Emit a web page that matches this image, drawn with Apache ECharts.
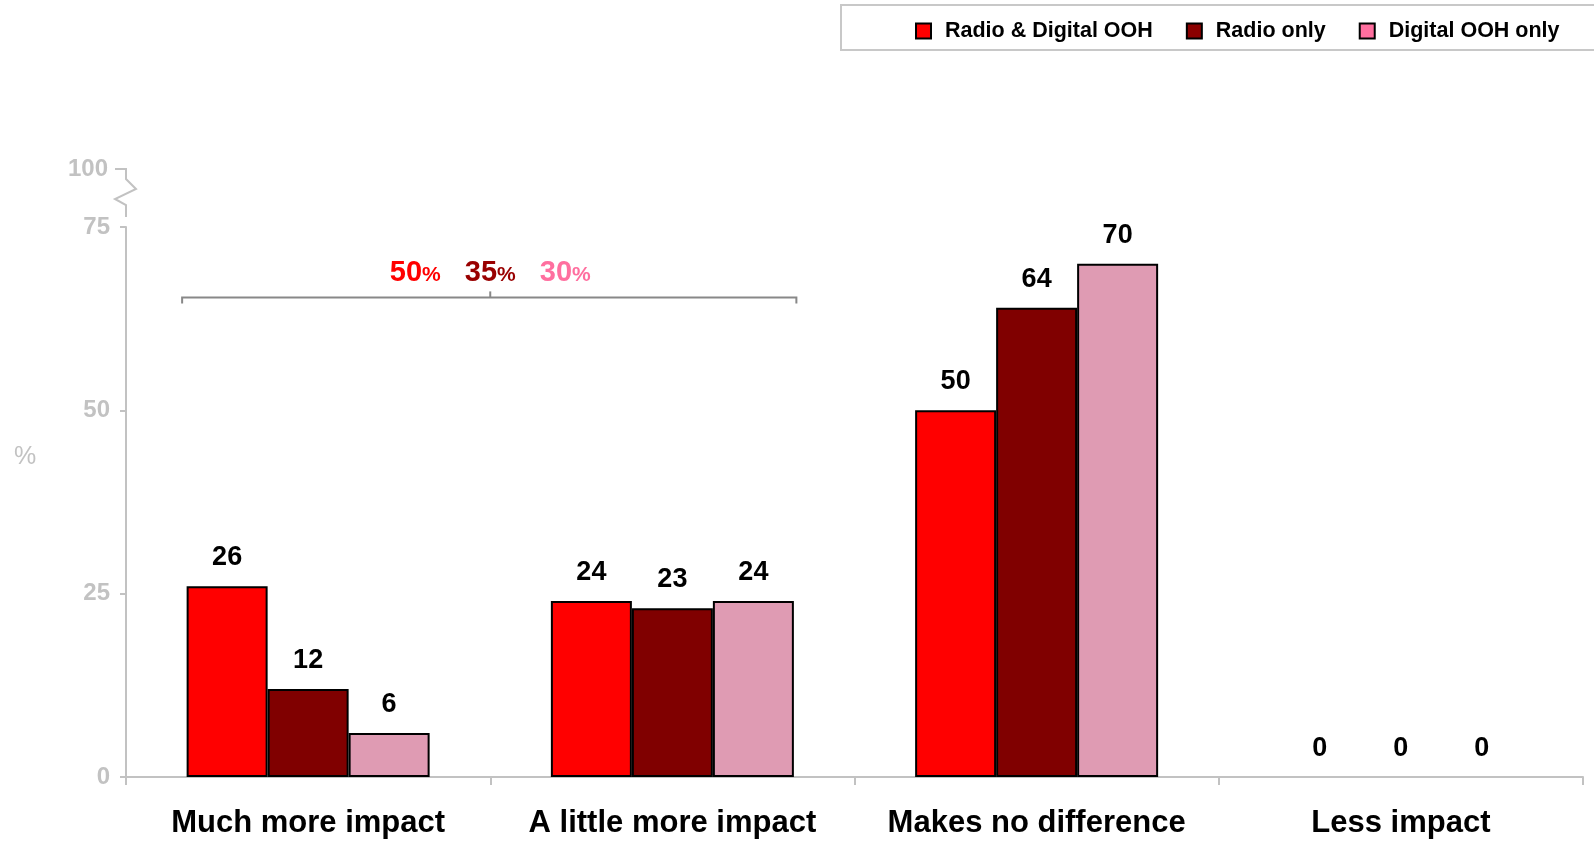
<!DOCTYPE html>
<html>
<head>
<meta charset="utf-8">
<title>Impact of combined Radio & Digital OOH</title>
<script src="https://cdn.jsdelivr.net/npm/echarts@6/dist/echarts.min.js"></script>
<style>
  html, body { margin: 0; padding: 0; background: #ffffff; }
  #chart { width: 1594px; height: 842px; }
</style>
</head>
<body>
<div id="chart"></div>
<script>
// Response categories along the x axis
const categories = ['Much more impact', 'A little more impact', 'Makes no difference', 'Less impact'];

// Share of respondents (%) per exposure group
const radioAndDigital = [26, 24, 50, 0];
const radioOnly = [12, 23, 64, 0];
const digitalOnly = [6, 24, 70, 0];

// Combined "more impact" totals shown above the bracket
const moreImpactTotals = [50, 35, 30];

// Value axis tick labels
const yTicks = [0, 25, 50, 75];
const yBreakLabel = '100';

const seriesNames = ['Radio & Digital OOH', 'Radio only', 'Digital OOH only'];
const barColors = ['#ff0000', '#800000', '#df9bb3'];
const keyColors = ['#ff0000', '#8b0000', '#ff6f9f'];
const totalColors = ['#ff0000', '#990000', '#ff6f9f'];

const FONT = '"Liberation Sans", Arial, Helvetica, sans-serif';
const GREY = '#c2c2c2';

const chart = echarts.init(document.getElementById('chart'), null, { renderer: 'canvas' });

function barData(values) {
  // zero-height bars get no outline so nothing is drawn on the axis
  return values.map(v => v === 0 ? { value: v, itemStyle: { borderWidth: 0 } } : v);
}

const seriesValues = [radioAndDigital, radioOnly, digitalOnly];

chart.setOption({
  animation: false,
  backgroundColor: '#ffffff',
  textStyle: { fontFamily: FONT },
  grid: { left: 126, right: 11, top: 227, bottom: 65, containLabel: false },
  legend: {
    left: 910,
    top: 15,
    itemWidth: 15,
    itemHeight: 15,
    itemGap: 33,
    icon: 'rect',
    selectedMode: false,
    data: seriesNames.map((n, i) => ({
      name: n,
      itemStyle: { color: keyColors[i], borderColor: '#000', borderWidth: 2 }
    })),
    textStyle: {
      fontFamily: FONT, fontSize: 21.5, fontWeight: 'bold', color: '#000',
      padding: [0, 0, 0, 9]
    }
  },
  xAxis: {
    type: 'category',
    data: categories,
    axisLine: { lineStyle: { color: GREY, width: 2 } },
    axisTick: { show: true, length: 8, lineStyle: { color: GREY, width: 2 } },
    axisLabel: {
      fontFamily: FONT, fontSize: 31, fontWeight: 'bold', color: '#000',
      margin: 31, interval: 0
    },
    splitLine: { show: false }
  },
  yAxis: {
    type: 'value',
    min: yTicks[0],
    max: yTicks[yTicks.length - 1],
    interval: yTicks[1] - yTicks[0],
    axisLine: { show: true, lineStyle: { color: GREY, width: 2 } },
    axisTick: { show: true, length: 6, lineStyle: { color: GREY, width: 2 } },
    axisLabel: {
      fontFamily: FONT, fontSize: 24, fontWeight: 'bold', color: GREY, margin: 16
    },
    splitLine: { show: false }
  },
  series: seriesNames.map((name, i) => ({
    name: name,
    type: 'bar',
    barWidth: 81,
    barGap: '0%',
    data: barData(seriesValues[i]),
    itemStyle: { color: barColors[i], borderColor: '#000', borderWidth: 2 },
    label: {
      show: true,
      position: 'top',
      distance: 15,
      fontFamily: FONT,
      fontSize: 27,
      fontWeight: 'bold',
      color: '#000'
    }
  }))
});

// Decorations placed through the chart's own scales
function drawDecorations() {
  const c0 = chart.convertToPixel({ xAxisIndex: 0 }, 0);
  const c1 = chart.convertToPixel({ xAxisIndex: 0 }, 1);
  const catW = c1 - c0;
  const yTop = chart.convertToPixel({ yAxisIndex: 0 }, yTicks[yTicks.length - 1]);
  const axisX = c0 - catW / 2;

  // axis break above the top tick, up to the 100 mark
  const y100 = yTop - 58;
  const breakLine = [
    [axisX - 11, y100], [axisX, y100], [axisX, y100 + 10],
    [axisX + 10, y100 + 20], [axisX - 11, y100 + 30],
    [axisX, y100 + 36], [axisX, y100 + 48]
  ];

  // bracket spanning the two "more impact" groups
  const bL = c0 - 126;
  const bR = c1 + 124;
  const bMid = (c0 + c1) / 2;
  const bY = chart.convertToPixel({ yAxisIndex: 0 }, 65.4);

  const totalsText = moreImpactTotals.map((v, i) => ({
    type: 'text',
    x: bMid + (i - 1) * 75,
    y: bY - 10,
    style: {
      text: '{n|' + v + '}{p|%}',
      align: 'center',
      verticalAlign: 'bottom',
      rich: {
        n: { fontFamily: FONT, fontSize: 29, fontWeight: 'bold', fill: totalColors[i] },
        p: { fontFamily: FONT, fontSize: 21, fontWeight: 'bold', fill: totalColors[i], padding: [4, 0, 0, 0] }
      }
    }
  }));

  chart.setOption({
    graphic: [
      {
        type: 'rect',
        shape: { x: 841, y: 5, width: 800, height: 45 },
        style: { fill: 'none', stroke: '#c8c8c8', lineWidth: 2 },
        z: 0
      },
      {
        type: 'polyline',
        shape: { points: breakLine },
        style: { stroke: GREY, lineWidth: 2, fill: 'none' }
      },
      {
        type: 'text',
        x: axisX - 18,
        y: y100,
        style: {
          text: yBreakLabel, align: 'right', verticalAlign: 'middle',
          fontFamily: FONT, fontSize: 24, fontWeight: 'bold', fill: GREY
        }
      },
      {
        type: 'text',
        x: 25,
        y: 457,
        style: {
          text: '%', align: 'center', verticalAlign: 'middle',
          fontFamily: FONT, fontSize: 25, fill: GREY
        }
      },
      {
        type: 'polyline',
        shape: { points: [[bL, bY + 6], [bL, bY], [bR, bY], [bR, bY + 6]] },
        style: { stroke: '#888888', lineWidth: 2, fill: 'none' }
      },
      {
        type: 'line',
        shape: { x1: bMid, y1: bY, x2: bMid, y2: bY - 6 },
        style: { stroke: '#888888', lineWidth: 2 }
      }
    ].concat(totalsText)
  });
}

drawDecorations();
</script>
</body>
</html>
